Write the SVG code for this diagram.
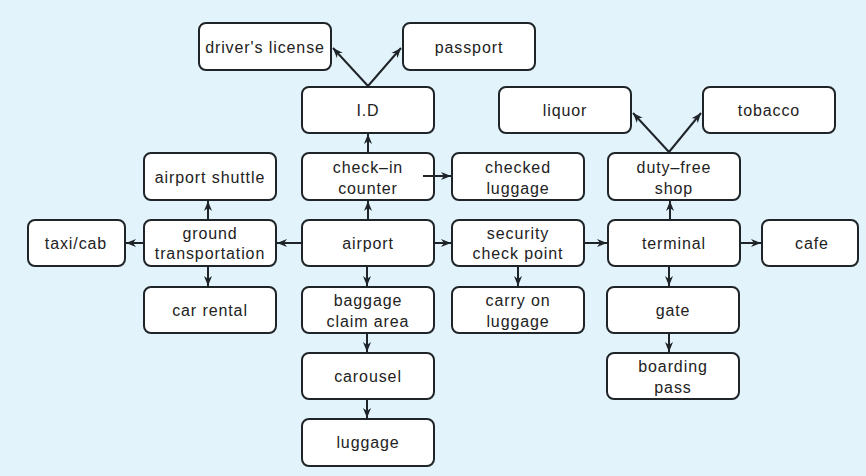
<svg xmlns="http://www.w3.org/2000/svg" width="866" height="476" viewBox="0 0 866 476">
<defs>
<marker id="ah" viewBox="0 0 10 10" refX="10" refY="5" markerWidth="10" markerHeight="10" markerUnits="userSpaceOnUse" orient="auto">
<path d="M0,1 L10,5 L0,9 L3,5 z" fill="#1e2428"/>
</marker>
<style>
.n rect{fill:#ffffff;stroke:#1e2428;stroke-width:2}
.n text{font-family:"Liberation Sans",Arial,sans-serif;font-size:16px;letter-spacing:0.9px;fill:#222;text-anchor:middle}
#connectors line{stroke:#1e2428;stroke-width:2;marker-end:url(#ah)}
</style>
</defs>
<rect x="0" y="0" width="866" height="476" fill="#e2f3fb"/>
<g id="drivers-license" class="n"><rect x="199" y="23" width="132" height="47" rx="7"/><text x="265" y="53">driver's license</text></g>
<g id="passport" class="n"><rect x="403" y="23" width="132" height="47" rx="7"/><text x="469" y="53">passport</text></g>
<g id="id" class="n"><rect x="302" y="87" width="132" height="46" rx="7"/><text x="368" y="116">I.D</text></g>
<g id="liquor" class="n"><rect x="499" y="87" width="132" height="46" rx="7"/><text x="565" y="116">liquor</text></g>
<g id="tobacco" class="n"><rect x="703" y="87" width="132" height="46" rx="7"/><text x="769" y="116">tobacco</text></g>
<g id="airport-shuttle" class="n"><rect x="144" y="153" width="132" height="47" rx="7"/><text x="210" y="183">airport shuttle</text></g>
<g id="check-in-counter" class="n"><rect x="302" y="153" width="132" height="47" rx="7"/><text x="368" y="173">check–in</text><text x="368" y="194">counter</text></g>
<g id="checked-luggage" class="n"><rect x="452" y="153" width="132" height="47" rx="7"/><text x="518" y="173">checked</text><text x="518" y="194">luggage</text></g>
<g id="duty-free-shop" class="n"><rect x="608" y="153" width="132" height="47" rx="7"/><text x="674" y="173">duty–free</text><text x="674" y="194">shop</text></g>
<g id="taxi-cab" class="n"><rect x="28" y="220" width="97" height="46" rx="7"/><text x="76" y="249">taxi/cab</text></g>
<g id="ground-transportation" class="n"><rect x="144" y="220" width="132" height="46" rx="7"/><text x="210" y="239">ground</text><text x="210" y="259">transportation</text></g>
<g id="airport" class="n"><rect x="302" y="220" width="132" height="46" rx="7"/><text x="368" y="249">airport</text></g>
<g id="security-check-point" class="n"><rect x="452" y="220" width="132" height="46" rx="7"/><text x="518" y="239">security</text><text x="518" y="259">check point</text></g>
<g id="terminal" class="n"><rect x="608" y="220" width="132" height="46" rx="7"/><text x="674" y="249">terminal</text></g>
<g id="cafe" class="n"><rect x="762" y="220" width="96" height="46" rx="7"/><text x="812" y="249">cafe</text></g>
<g id="car-rental" class="n"><rect x="144" y="287" width="132" height="46" rx="7"/><text x="210" y="316">car rental</text></g>
<g id="baggage-claim-area" class="n"><rect x="302" y="287" width="132" height="46" rx="7"/><text x="368" y="306">baggage</text><text x="368" y="327">claim area</text></g>
<g id="carry-on-luggage" class="n"><rect x="452" y="287" width="132" height="46" rx="7"/><text x="518" y="306">carry on</text><text x="518" y="327">luggage</text></g>
<g id="gate" class="n"><rect x="607" y="287" width="132" height="46" rx="7"/><text x="673" y="316">gate</text></g>
<g id="carousel" class="n"><rect x="302" y="353" width="132" height="46" rx="7"/><text x="368" y="382">carousel</text></g>
<g id="boarding-pass" class="n"><rect x="607" y="353" width="132" height="46" rx="7"/><text x="673" y="372">boarding</text><text x="673" y="393">pass</text></g>
<g id="luggage" class="n"><rect x="302" y="419" width="132" height="47" rx="7"/><text x="368" y="448">luggage</text></g>
<g id="connectors">
<line x1="368" y1="86" x2="333" y2="48"/>
<line x1="368" y1="86" x2="401" y2="48"/>
<line x1="368" y1="152" x2="368" y2="134"/>
<line x1="423" y1="176" x2="451" y2="176"/>
<line x1="368" y1="219" x2="368" y2="201"/>
<line x1="301" y1="243" x2="277" y2="243"/>
<line x1="143" y1="243" x2="126" y2="243"/>
<line x1="208" y1="219" x2="208" y2="201"/>
<line x1="208" y1="267" x2="208" y2="286"/>
<line x1="367" y1="267" x2="367" y2="286"/>
<line x1="367" y1="334" x2="367" y2="352"/>
<line x1="367" y1="400" x2="367" y2="418"/>
<line x1="435" y1="243" x2="451" y2="243"/>
<line x1="518" y1="267" x2="518" y2="286"/>
<line x1="585" y1="243" x2="607" y2="243"/>
<line x1="670" y1="219" x2="670" y2="201"/>
<line x1="741" y1="243" x2="761" y2="243"/>
<line x1="669" y1="267" x2="669" y2="286"/>
<line x1="669" y1="334" x2="669" y2="352"/>
<line x1="669" y1="152" x2="633" y2="113"/>
<line x1="669" y1="152" x2="701" y2="113"/>
</g>
</svg>
